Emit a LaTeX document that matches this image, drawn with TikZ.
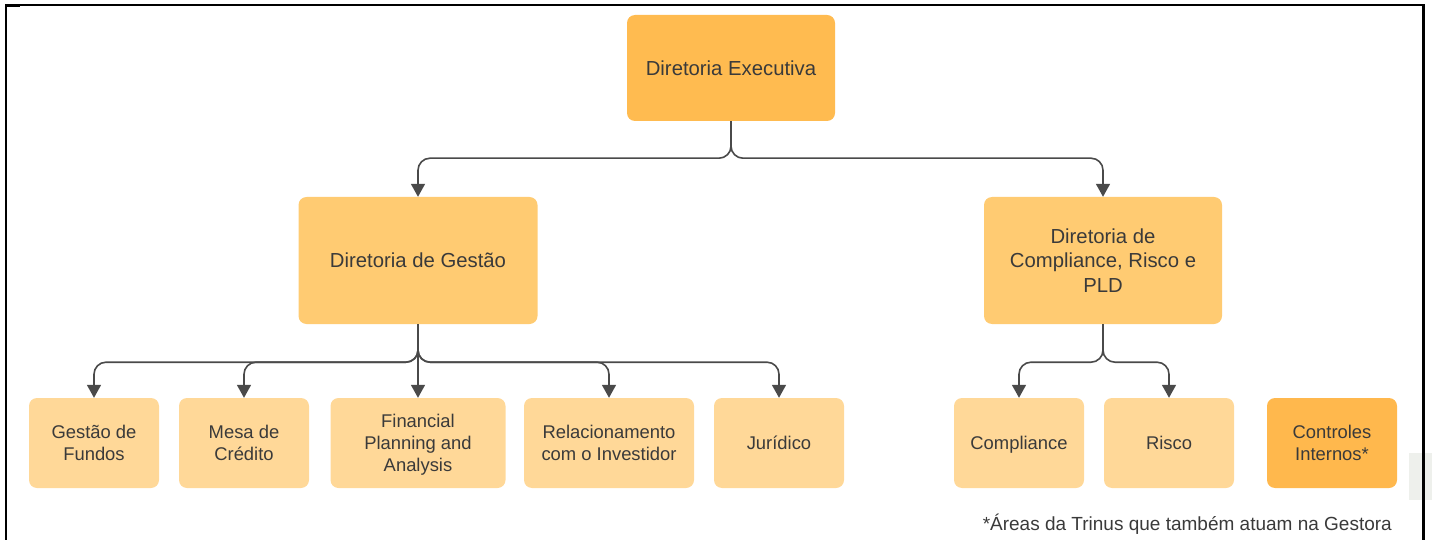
\documentclass[tikz,border=0pt]{standalone}
\usepackage{fontspec}
\setmainfont{Liberation Sans}
\usetikzlibrary{arrows.meta}
\definecolor{topfill}{HTML}{FFBB50}
\definecolor{midfill}{HTML}{FFCB72}
\definecolor{subfill}{HTML}{FFD898}
\definecolor{ctrlfill}{HTML}{FFB84D}
\definecolor{txt}{HTML}{3A3A3A}
\definecolor{lnk}{HTML}{4A4A4A}
\definecolor{gry}{HTML}{EEF0EC}
\begin{document}
\begin{tikzpicture}[x=1pt,y=-1pt]
    \tikzstyle{box}=[rectangle, rounded corners=8pt, inner sep=2pt, align=center, text=txt, font=\fontsize{20.3}{24.5}\selectfont]
    \tikzstyle{sub}=[box, fill=subfill, minimum width=130pt, minimum height=90pt, text depth=0pt, font=\fontsize{18.4}{22}\selectfont]
    \tikzstyle{link}=[draw=lnk, line width=1.6pt, rounded corners=12pt, -{Triangle[width=14pt,length=13pt]}]
    \useasboundingbox (0,0) rectangle (1432,540);
    \fill[gry] (1409,453) rectangle (1432,500);
    \draw[line width=1.5pt] (6,5) -- (1423,5);
    \draw[line width=2.5pt] (6,5.5) -- (20,5.5);
    \draw[line width=2.3pt] (6,4.5) -- (6,540);
    \draw[line width=2.3pt] (1423.5,4.5) -- (1423.5,540);
    % directors
    \node[box, fill=topfill, minimum width=208pt, minimum height=106pt] (de) at (731,68) {Diretoria Executiva};
    \node[box, fill=midfill, minimum width=239pt, minimum height=127pt] (dg) at (418,260.5) {Diretoria de Gestão};
    \node[box, fill=midfill, minimum width=238pt, minimum height=127pt] (dc) at (1103,260.5) {Diretoria de\\Compliance, Risco e\\PLD};
    % areas
    \node[sub] (gf) at (94,443) {Gestão de\\Fundos};
    \node[sub] (mc) at (244,443) {Mesa de\\Crédito};
    \node[sub, minimum width=175pt] (fpa) at (418,443) {Financial\\Planning and\\Analysis};
    \node[sub, minimum width=170pt] (ri) at (609,443) {Relacionamento\\com o Investidor};
    \node[sub] (ju) at (779,443) {Jurídico};
    \node[sub] (co) at (1019,443) {Compliance};
    \node[sub] (rs) at (1169,443) {Risco};
    \node[sub, fill=ctrlfill] (ci) at (1332,443) {Controles\\Internos*};
    \node[text=txt, font=\fontsize{19}{22}\selectfont, anchor=east, inner sep=0pt] (note) at (1392,524) {*Áreas da Trinus que também atuam na Gestora};
    % links
    \draw[link] (de.south) -- ++(0,37) -| (dg.north);
    \draw[link] (de.south) -- ++(0,37) -| (dc.north);
    \foreach \n in {gf,mc,ri,ju}
      \draw[link] (dg.south) -- ++(0,38) -| (\n.north);
    \draw[link] (dg.south) -- (fpa.north);
    \draw[link] (dc.south) -- ++(0,38) -| (co.north);
    \draw[link] (dc.south) -- ++(0,38) -| (rs.north);
\end{tikzpicture}
\end{document}
